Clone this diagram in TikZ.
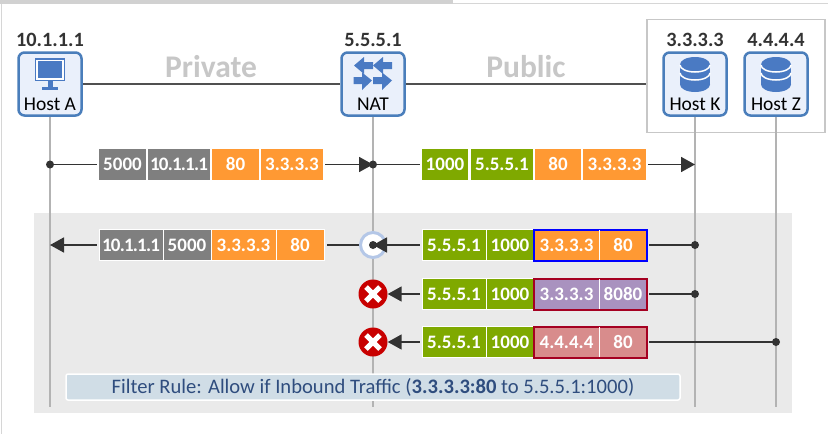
\documentclass[tikz,border=0pt]{standalone}
\usepackage{fontspec}
\setmainfont{Carlito}
\usetikzlibrary{arrows.meta}
\definecolor{lifec}{HTML}{B3B3B3}
\definecolor{busc}{HTML}{505050}
\definecolor{iconc}{HTML}{4A7AC3}
\definecolor{hostb}{HTML}{4A7EBB}
\definecolor{hostf}{HTML}{EAF0FB}
\definecolor{darkc}{HTML}{333333}
\definecolor{grayp}{HTML}{7F7F7F}
\definecolor{orangep}{HTML}{FF9933}
\definecolor{greenp}{HTML}{7FA900}
\definecolor{purplep}{HTML}{A992BF}
\definecolor{pinkp}{HTML}{D88C8C}
\definecolor{redb}{HTML}{A50021}
\definecolor{stopc}{HTML}{C80000}
\definecolor{regionc}{HTML}{EAEAEA}
\definecolor{rulec}{HTML}{D0DDE6}
\definecolor{ruletext}{HTML}{2F4D7E}
\definecolor{passc}{HTML}{B4C7E7}
\newcommand{\tightnum}[1]{{\addfontfeature{LetterSpace=-4.2}#1}}
\tikzset{
  x=1pt,y=-1pt,
  hostbox/.style={draw=hostb,fill=hostf,line width=2.5pt,rounded corners=6pt,minimum width=63pt,minimum height=63pt,inner sep=0pt},
  hostname/.style={font=\fontsize{19.5}{19.5}\selectfont,text=black,inner sep=0pt},
  ipname/.style={font=\bfseries\fontsize{20.3}{20.3}\selectfont,text=darkc,inner sep=0pt},
  zone/.style={font=\bfseries\fontsize{31.5}{31.5}\selectfont,text=black!22,inner sep=0pt},
  life/.style={draw=lifec,line width=1.6pt},
  bus/.style={draw=busc,line width=2pt},
  conn/.style={draw=darkc,line width=1.8pt},
  flow/.style={conn,-{Triangle[length=14pt,width=15pt]}},
  dot/.style={circle,fill=darkc,inner sep=0pt,minimum size=8pt},
  cell/.style={inner sep=0pt,minimum height=31pt,text=white,font=\bfseries\fontsize{19}{19}\selectfont},
  cellw/.style={cell,draw=white,line width=1pt},
  stop/.style={circle,fill=stopc,inner sep=0pt,minimum size=29pt},
  xbar/.style={draw=white,line width=5pt},
  icon/.style={fill=iconc,draw=none},
}
\newcommand{\pkt}[7][cell]{\node[#1,fill=#6,minimum width=#4pt-#3pt] (#2) at ({(#3+#4)/2},#5) {#7};}
\begin{document}
\begin{tikzpicture}
\useasboundingbox (0,0) rectangle (828,434);
\fill[white] (0,0) rectangle (828,434);
% page edge
\fill[black!18] (0,0) rectangle (453,4);
\fill[black!16] (453,3) rectangle (828,4);
\fill[black!16] (1,4) rectangle (2,434);
% shaded region
\node[fill=regionc,inner sep=0pt,minimum width=758pt,minimum height=200pt] (region) at (413,313) {};
% hosts
\node[draw=black!22,line width=1.5pt,inner sep=0pt,minimum width=178pt,minimum height=113pt] (frame) at (736,76) {};
\node[hostbox] (hostA) at (50,84) {};
\node[hostbox] (nat) at (373,84) {};
\node[hostbox] (hostK) at (695,84) {};
\node[hostbox] (hostZ) at (776,84) {};
\node[hostname] (lA) at (50,104) {Host A};
\node[hostname] (lN) at (373,104) {NAT};
\node[hostname] (lK) at (695,104) {Host K};
\node[hostname] (lZ) at (776,104) {Host Z};
\node[ipname] (ipA) at (50,40) {10.1.1.1};
\node[ipname] (ipN) at (373,40) {5.5.5.1};
\node[ipname] (ipK) at (695,40) {3.3.3.3};
\node[ipname] (ipZ) at (776,40) {4.4.4.4};
\node[zone] (priv) at (211,67) {Private};
\node[zone] (pub) at (526,67) {Public};
\draw[bus] (hostA.east) -- (nat.west);
\draw[bus] (nat.east) -- (nat.east -| frame.west);
% icons
\fill[icon] (34.5,58) rectangle (65,81);
\fill[white] (36,59.5) rectangle (63.5,79.5);
\fill[icon] (37.5,61) rectangle (62,78);
\fill[icon] (47.5,81) rectangle (52.5,87);
\fill[icon] (41.5,87) rectangle (58,90);
\fill[icon] (354,65.5) -- (364,57) -- (364,62) -- (373,62) -- (373,69) -- (364,69) -- (364,74) -- cycle;
\fill[icon] (373,65.5) -- (383,57) -- (383,62) -- (392,62) -- (392,69) -- (383,69) -- (383,74) -- cycle;
\fill[icon] (372,80.5) -- (362,72.5) -- (362,77) -- (353.5,77) -- (353.5,84) -- (362,84) -- (362,90) -- cycle;
\fill[icon] (392,80.5) -- (382,72.5) -- (382,77) -- (373,77) -- (373,84) -- (382,84) -- (382,90) -- cycle;
\foreach \cx in {695,776}{
  \fill[icon] (\cx,64.5) ellipse[x radius=15,y radius=7.5];
  \fill[icon] (\cx-15,64.5) rectangle (\cx+15,84.5);
  \fill[icon] (\cx,84.5) ellipse[x radius=15,y radius=7.5];
  \draw[white,line width=1.5pt] (\cx+15,65) arc[start angle=0,end angle=180,x radius=15,y radius=7];
  \draw[white,line width=1.5pt] (\cx+15,73) arc[start angle=0,end angle=180,x radius=15,y radius=7];
}
% lifelines
\coordinate (endA) at (50,407);
\coordinate (endN) at (373,407);
\coordinate (endK) at (695,407);
\coordinate (endZ) at (776,407);
\draw[life] (hostA.south) -- (endA);
\draw[life] (nat.south) -- (endN);
\draw[life] (hostK.south) -- (endK);
\draw[life] (hostZ.south) -- (endZ);
% row 1
\pkt{a1}{99}{146}{164.5}{grayp}{5000}
\pkt{a2}{148}{210}{164.5}{grayp}{\tightnum{10.1.1.1}}
\pkt{a3}{212}{259}{164.5}{orangep}{80}
\pkt{a4}{261}{323}{164.5}{orangep}{3.3.3.3}
\pkt{b1}{422}{468}{164.5}{greenp}{1000}
\pkt{b2}{471}{533}{164.5}{greenp}{5.5.5.1}
\pkt{b3}{535}{581}{164.5}{orangep}{80}
\pkt{b4}{583}{646}{164.5}{orangep}{3.3.3.3}
\coordinate (r1A) at (50,164.5);
\coordinate (r1N) at (373,164.5);
\coordinate (r1K) at (695,164.5);
\draw[conn,shorten >=2pt] (r1A) -- (a1.west);
\draw[flow,shorten <=2pt] (a4.east) -- (r1N);
\draw[conn,shorten >=2pt] (r1N) -- (b1.west);
\draw[flow,shorten <=2pt] (b4.east) -- (r1K);
\node[dot] (d1A) at (r1A) {};
\node[dot] (d1N) at (r1N) {};
% row 2
\coordinate (r2A) at (50,245);
\coordinate (r2N) at (373,245);
\coordinate (r2K) at (695,245);
\pkt[cellw]{c1}{99}{163}{245}{grayp}{\tightnum{10.1.1.1}}
\pkt[cellw]{c2}{163}{211}{245}{grayp}{5000}
\pkt[cellw]{c3}{211}{276}{245}{orangep}{3.3.3.3}
\pkt[cellw]{c4}{276}{324}{245}{orangep}{80}
\node[circle,draw=passc,fill=white,line width=3pt,inner sep=0pt,minimum size=25pt] (pass) at (r2N) {};
\draw[conn,shorten >=2pt] (pass.west) -- (c4.east);
\draw[flow,shorten <=2pt] (c1.west) -- (r2A);
\node[dot] (d2N) at (r2N) {};
\pkt[cellw]{e1}{422}{486}{245}{greenp}{5.5.5.1}
\pkt[cellw]{e2}{486}{534}{245}{greenp}{1000}
\node[cell,fill=orangep,draw=blue,line width=2pt,minimum width=113pt] (e3) at (590.5,245) {};
\node[cell] (e3a) at (566.5,245) {3.3.3.3};
\node[cell] (e3b) at (623,245) {80};
\draw[white,line width=1pt] (599,230) -- (599,260);
\draw[flow,shorten <=2pt] (e1.west) -- (r2N);
\draw[conn,shorten <=1pt] (e3.east) -- (r2K);
\node[dot] (d2K) at (r2K) {};
% row 3
\coordinate (r3N) at (373,294);
\coordinate (r3K) at (695,294);
\node[stop] (stop1) at (r3N) {};
\draw[xbar] (366,287) -- (380,301);
\draw[xbar] (380,287) -- (366,301);
\pkt[cellw]{f1}{422}{486}{294}{greenp}{5.5.5.1}
\pkt[cellw]{f2}{486}{534}{294}{greenp}{1000}
\node[cell,fill=purplep,draw=redb,line width=2pt,minimum width=113pt] (f3) at (590.5,294) {};
\node[cell] (f3a) at (566.5,294) {3.3.3.3};
\node[cell] (f3b) at (623,294) {8080};
\draw[white,line width=1pt] (599,279) -- (599,309);
\draw[flow,shorten <=2pt] (f1.west) -- (stop1.east);
\draw[conn,shorten <=1pt] (f3.east) -- (r3K);
\node[dot] (d3K) at (r3K) {};
% row 4
\coordinate (r4N) at (373,342);
\coordinate (r4Z) at (776,342);
\node[stop] (stop2) at (r4N) {};
\draw[xbar] (366,335) -- (380,349);
\draw[xbar] (380,335) -- (366,349);
\pkt[cellw]{g1}{422}{486}{342}{greenp}{5.5.5.1}
\pkt[cellw]{g2}{486}{534}{342}{greenp}{1000}
\node[cell,fill=pinkp,draw=redb,line width=2pt,minimum width=113pt] (g3) at (590.5,342) {};
\node[cell] (g3a) at (566.5,342) {4.4.4.4};
\node[cell] (g3b) at (623,342) {80};
\draw[white,line width=1pt] (599,327) -- (599,357);
\draw[flow,shorten <=2pt] (g1.west) -- (stop2.east);
\draw[conn,shorten <=1pt] (g3.east) -- (r4Z);
\node[dot] (d4Z) at (r4Z) {};
% filter rule
\node[draw=white,fill=rulec,line width=1.5pt,rounded corners=2pt,inner sep=0pt,minimum width=614pt,minimum height=26pt,text=ruletext,font=\fontsize{20.6}{20.6}\selectfont] (rule) at (373,387) {Filter Rule: Allow if Inbound Traffic (\textbf{3.3.3.3:80} to 5.5.5.1:1000)};
\end{tikzpicture}
\end{document}
